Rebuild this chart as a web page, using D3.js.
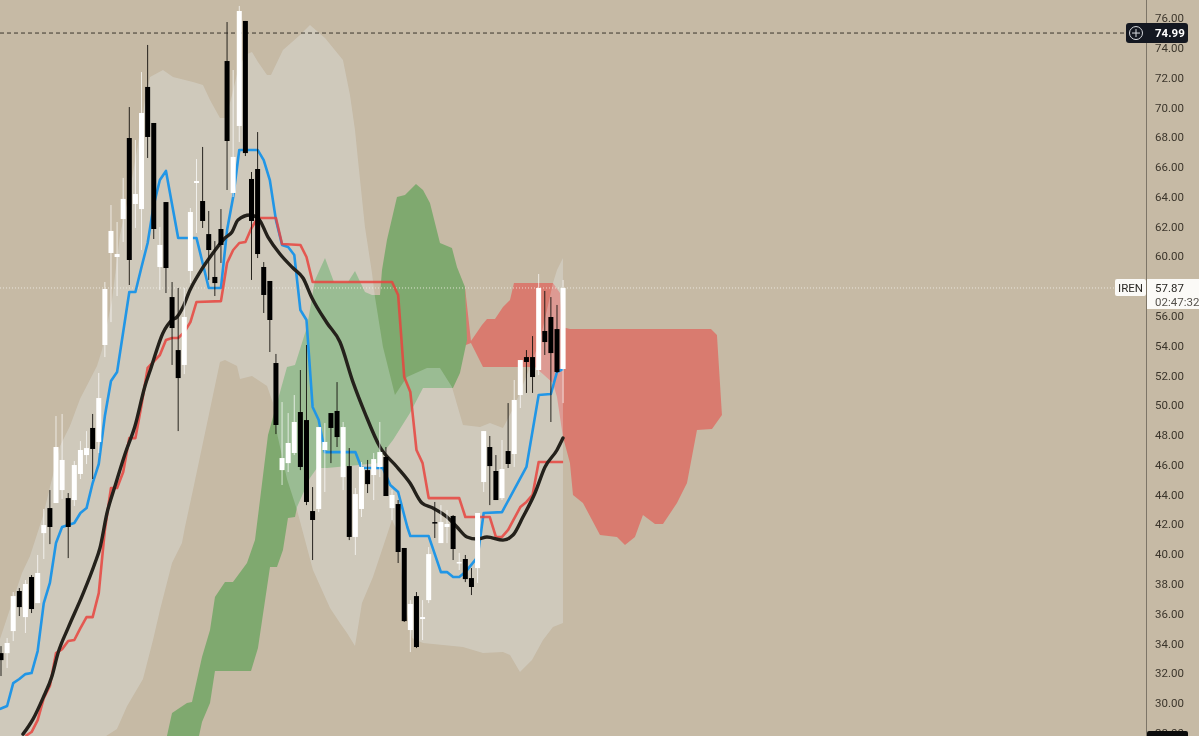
<!DOCTYPE html>
<html><head><meta charset="utf-8">
<style>html,body{margin:0;padding:0;background:#c6baa5;overflow:hidden}svg{display:block;filter:blur(0.4px)}</style>
<script src="https://cdn.jsdelivr.net/npm/d3@7/dist/d3.min.js"></script>
</head><body><svg id="c" width="1199" height="736"></svg>
<script>
const opens=[33.35,33.35,34.83,37.52,35.77,38.46,36.71,41.41,43.09,43.43,44.30,43.76,43.63,45.38,46.65,48.47,47.53,54.04,60.22,59.95,62.50,67.94,63.51,63.17,71.37,68.95,59.28,63.64,57.26,53.70,52.70,59.01,64.92,63.71,61.49,58.61,61.83,73.11,64.25,68.75,75.80,65.19,65.86,59.28,58.34,52.83,45.64,46.11,46.79,49.54,49.00,42.89,43.03,46.99,49.47,49.61,45.17,45.91,41.15,43.03,45.64,45.31,45.85,46.52,43.09,43.36,40.41,34.90,37.18,35.64,36.91,42.15,40.74,41.82,42.56,39.40,39.67,38.39,39.06,44.84,47.19,45.58,43.76,46.92,46.72,50.68,53.23,53.23,52.36,54.98,55.92,55.11,52.43];
const closes=[32.88,34.03,37.18,36.44,37.99,36.31,38.73,41.95,41.82,47.19,46.32,41.82,45.98,46.99,47.12,47.06,50.48,57.80,61.70,60.15,63.85,59.75,64.18,69.62,68.01,61.83,60.76,59.21,55.18,51.82,55.92,62.97,65.05,62.37,60.42,58.20,60.76,67.74,66.67,76.47,66.93,62.37,60.15,57.40,55.72,48.67,46.45,47.46,48.87,45.85,43.50,42.29,48.53,47.53,48.47,47.86,48.53,41.15,44.03,45.85,44.70,46.38,46.85,43.90,43.97,40.14,35.50,36.65,33.76,35.77,40.00,42.09,42.15,42.02,40.34,39.47,38.32,37.79,42.76,48.26,45.91,43.63,45.71,46.05,50.35,53.03,52.90,51.89,57.87,54.24,53.50,52.23,57.87];
const highs=[33.82,34.36,37.45,37.72,38.26,38.59,39.94,43.03,44.30,49.27,49.41,44.10,46.25,47.59,48.26,49.41,52.16,58.27,63.44,62.30,65.26,70.02,67.81,72.37,74.19,68.95,61.96,63.64,58.27,57.87,57.87,63.24,66.53,67.34,63.04,61.02,63.17,75.73,72.51,76.81,75.80,65.66,68.34,59.61,58.34,53.44,50.21,49.47,50.68,52.36,54.04,44.50,48.53,48.80,49.47,51.55,48.87,47.12,44.44,46.18,46.32,46.79,48.87,47.19,44.30,43.63,40.41,36.91,37.45,36.91,40.47,43.50,43.29,42.96,42.62,40.07,39.94,39.06,42.76,48.26,47.93,46.65,47.66,50.14,51.69,53.03,53.70,54.64,58.81,57.67,57.26,56.73,58.41];
const lows=[31.81,32.35,34.16,35.84,34.70,36.04,36.71,39.67,40.67,43.43,43.70,39.73,43.23,45.04,46.05,45.04,46.79,53.23,55.58,57.33,60.96,58.07,61.90,60.42,66.60,61.16,57.73,57.53,52.70,48.26,52.09,58.20,61.56,61.90,58.41,57.33,59.55,64.45,63.98,67.67,66.73,58.41,59.88,56.19,53.57,48.06,44.64,45.51,46.65,45.64,43.29,39.60,42.82,44.17,46.11,47.19,44.30,40.94,39.94,42.49,44.10,43.63,45.17,43.90,42.29,39.40,35.44,33.42,33.69,34.23,36.71,41.08,40.74,40.74,39.60,38.93,38.12,37.25,38.06,44.17,43.29,43.63,43.63,45.78,45.85,49.81,50.82,50.82,52.02,53.37,48.87,52.16,50.14];

const blueBars=[-0.2,1,2,3,4,5,6,7,8,9,10,12,13,14,15,16,17,18,19,21,22,23,24,25,26,27,29,32,33,34,36,37,38,39,42,43,44,45,46,47,48,49,50,51,52,53,58,59,62.5,63.7,65,66.5,67,70,72,73,74,75,76,78,79,82,86,88,90,91,92];
const bluePrices=[29.59,29.80,31.34,31.61,31.94,32.01,33.49,36.71,38.06,40.74,41.82,42.09,42.76,43.09,44.77,46.05,49.27,51.62,52.23,57.60,57.60,59.28,60.89,63.44,65.12,65.73,61.23,61.23,59.55,57.87,57.87,61.76,63.98,67.14,67.14,66.46,65.12,62.43,60.76,60.62,60.09,56.39,55.72,49.88,49.00,46.85,46.85,45.78,45.78,44.64,44.17,41.82,41.21,41.21,38.79,38.79,38.46,38.46,38.79,39.80,42.76,42.82,45.85,50.68,50.75,52.23,52.43];

const redBars=[4,5,6,7,8,9,10,11,12,13,14,15,16,17,18,19,20,21,22,23,24,26,27,28,29,30,31,32,36,37,38,39,40,41,42,45,46,49,50,51,64,65,66,67,68,69,70,75,76,80,81,82,83,85,86,87,88,92];
const redPrices=[27.78,28.05,28.85,30.33,31.14,33.35,33.62,34.16,34.23,35.03,35.77,35.77,37.38,41.62,44.44,44.44,45.51,47.79,47.79,50.01,52.50,53.37,54.38,54.51,54.51,54.91,55.58,56.93,56.99,59.55,60.42,60.89,60.96,61.90,62.57,62.57,60.82,60.76,59.95,58.27,58.27,57.40,51.89,50.88,46.99,46.11,43.76,43.76,42.49,42.49,41.15,41.15,41.62,43.16,43.50,43.97,46.18,46.18];

const maBars=[3.6,5.24,6.87,8.35,9.33,10.97,13.26,15.38,16.2,17.35,18.66,20.3,21.93,23.57,24.55,26.51,27.99,28.8,29.79,30.93,32.57,34.7,36.66,37.81,38.79,40.75,42.06,43.7,45.66,47.79,49.43,50.9,53.36,55.48,57.61,59.57,62.03,64.81,66.94,68.9,70.7,73,74.63,76.27,77.9,79.54,82.16,83.8,85.43,87.4,89.04,91,91.98];
const maPrices=[27.91,28.92,30.33,31.81,33.35,35.03,37.18,39.40,40.41,42.76,44.57,46.72,48.60,51.29,52.50,54.85,55.72,55.92,56.59,57.73,58.94,60.22,61.23,61.63,62.43,62.77,62.57,61.29,60.15,59.21,58.54,57.20,55.52,54.24,51.55,49.47,47.19,45.85,44.77,43.43,43.09,42.49,41.82,41.15,41.01,41.15,40.94,41.28,42.49,44.10,45.85,46.99,47.79];

const bandUpperBars=[-0.16,1.47,3.44,4.75,6.87,9.66,11.29,12.93,15.71,16.53,18.17,19.48,21.11,22.26,23.57,24.39,26.51,28.15,31.42,33.06,34.21,35.84,36.82,37.81,38.79,39.93,41.08,42.06,43.54,44.19,46.15,48.94,50.57,53.03,55.97,57.12,57.94,58.43,59.57,60.72,61.21,62.52,64.48,66.45,69.72,71.85,73.81,75.61,78.4,80.03,82.16,84.12,86.58,88.22,89.36,90.34,91,91.98];
const bandUpperPrices=[34.29,36.31,38.73,39.87,42.56,47.26,48.60,50.41,52.63,53.70,57.06,61.43,64.45,67.14,70.49,72.04,72.51,72.04,71.70,71.50,70.49,69.29,69.29,70.83,72.51,73.52,73.72,73.05,72.17,72.17,73.85,74.86,75.53,74.66,73.18,70.83,68.48,66.46,61.96,58.88,57.26,53.91,50.68,51.89,52.50,52.50,51.22,48.67,48.53,48.80,48.47,50.01,52.56,54.38,56.39,58.20,59.08,59.88];
const bandLowerBars=[-0.16,16.69,18.98,20.62,23.24,24.88,26.02,27.99,29.62,30.11,31.42,34.53,35.84,36.66,38.63,39.12,41.08,43.54,44.52,45.17,46.81,48.45,51.06,53.85,55.48,56.63,57.94,59.08,60.88,62.52,63.99,64.97,65.96,67.27,69.07,75.61,78.89,82.16,83.31,84.94,86.91,88.71,90.34,91.98];
const bandLowerPrices=[26.17,27.65,28.25,29.79,31.61,34.23,36.24,39.40,40.74,41.82,44.30,50.35,52.90,53.03,52.63,51.76,51.96,51.29,50.14,48.13,45.04,42.96,38.93,36.38,35.37,34.70,33.82,36.71,38.46,40.47,42.29,41.48,36.91,34.36,34.03,33.76,33.35,33.42,33.22,32.08,32.88,34.23,35.10,35.37];

const greenBars=[26.84,27.99,30.44,31.26,32.9,34.21,35.02,36.66,37.97,40.26,41.57,42.39,43.7,46.81,48.12,50.08,51.39,53.03,54.5,56.79,57.94,59.57,60.72,62.03,62.36,63.17,64.81,66.12,67.92,69.07,70.21,71.85,73.81,74.63,75.94,76.27,75.12,73.98,69.07,66.94,64.16,62.52,62.03,53.36,51.72,50.57,48.45,48.12,46.97,46.15,45.17,44.03,42.06,40.92,35.02,34.21,32.9,32.08];
const greenPrices=[27.18,29.33,30.00,30.06,33.09,34.90,37.12,38.12,38.12,39.40,40.94,43.63,48.00,52.56,52.70,55.25,58.41,59.88,58.27,58.27,59.01,57.60,57.40,57.40,59.08,61.09,63.98,64.11,64.85,64.45,63.58,60.89,60.55,59.28,57.94,54.38,52.16,51.15,51.15,49.47,47.66,46.79,46.11,45.78,45.78,45.11,43.16,42.49,42.42,40.27,39.13,39.13,33.69,32.15,32.15,30.00,28.72,27.18];

const cloudRedBars=[75.94,76.92,78.72,79.54,80.85,82.16,83.31,83.96,90.34,91.49,91.82,93.12,116.2,117.18,118,116.37,113.91,112.28,110.64,108.35,107.04,105.07,103.76,102.13,100.82,98.04,95.25,93.62,93.12,91.98,91.49,91,90.34,87.4,78.89,78.07,76.92,76.1];
const cloudRedPrices=[57.94,54.31,55.38,55.79,55.79,56.59,57.06,58.20,58.20,57.53,55.25,55.11,55.11,54.71,49.34,48.40,48.33,44.77,43.43,42.02,42.02,42.62,41.15,40.61,41.15,41.28,43.43,43.97,46.12,47.86,49.20,50.55,51.49,52.56,52.56,53.23,54.17,54.04];

const tickValues=[76,74,72,70,68,66,64,62,60,56,54,52,50,48,46,44,42,40,38,36,34,32,30,28];
const highPrice=74.99, lastPrice=57.87, symbol="IREN", countdown="02:47:32", lowPriceLabel="27.40";

const svg=d3.select("#c");
const FONT="Roboto, sans-serif";
const x=d3.scaleLinear().domain([0,92]).range([1,563.1]);
const y=d3.scaleLinear().domain([76,30]).range([18,703]);
const AXX=1146.5;
const chart=svg.append("g");
const line=d3.line().x(d=>x(d[0])).y(d=>y(d[1]));
const zip=(a,b)=>a.map((v,i)=>[v,b[i]]);

chart.append("path").attr("d",line(zip(cloudRedBars,cloudRedPrices))+"Z").attr("fill","#d97b6f");
chart.append("path").attr("d",line(zip(greenBars,greenPrices))+"Z").attr("fill","#7fa96f");
const bandPts=zip(bandUpperBars,bandUpperPrices).concat(zip(bandLowerBars,bandLowerPrices).reverse());
chart.append("path").attr("d",line(bandPts)+"Z").attr("fill","rgb(237,249,255)").attr("fill-opacity",0.25);

chart.append("line").attr("x1",0).attr("x2",1126).attr("y1",y(highPrice)).attr("y2",y(highPrice)).attr("stroke","#3b352c").attr("stroke-width",1).attr("stroke-dasharray","4 3");
chart.append("line").attr("x1",0).attr("x2",1115).attr("y1",y(lastPrice)).attr("y2",y(lastPrice)).attr("stroke","#f4f1ea").attr("stroke-width",1).attr("stroke-dasharray","1 2").attr("opacity",0.8);

chart.append("path").attr("d",line(zip(blueBars,bluePrices))).attr("fill","none").attr("stroke","#2196e6").attr("stroke-width",2.6).attr("stroke-linejoin","round");
chart.append("path").attr("d",line(zip(redBars,redPrices))).attr("fill","none").attr("stroke","#e8443e").attr("stroke-width",2.6).attr("stroke-linejoin","round").attr("opacity",0.85);
chart.append("path").attr("d",d3.line().x(d=>x(d[0])).y(d=>y(d[1])).curve(d3.curveMonotoneX)(zip(maBars,maPrices))).attr("fill","none").attr("stroke","#24211b").attr("stroke-width",3.4).attr("stroke-linecap","round");

const candles=opens.map((o,i)=>({i,o,c:closes[i],h:highs[i],l:lows[i]}));
const cg=chart.append("g");
cg.selectAll("line").data(candles).join("line")
 .attr("x1",d=>x(d.i)).attr("x2",d=>x(d.i)).attr("y1",d=>y(d.h)).attr("y2",d=>y(d.l))
 .attr("stroke",d=>d.c>=d.o?"#ffffff":"#14120e").attr("stroke-width",1).attr("opacity",d=>d.c>=d.o?0.7:0.9);
cg.selectAll("rect").data(candles).join("rect")
 .attr("x",d=>x(d.i)-2.5).attr("width",5)
 .attr("y",d=>y(Math.max(d.o,d.c)))
 .attr("height",d=>Math.max(1.5,Math.abs(y(d.o)-y(d.c))))
 .attr("fill",d=>d.c>=d.o?"#ffffff":"#000000");

// price axis
svg.append("line").attr("x1",AXX).attr("x2",AXX).attr("y1",0).attr("y2",736).attr("stroke","#7d7567").attr("stroke-width",1);
const axis=d3.axisRight(y).tickValues(tickValues).tickSize(0).tickPadding(0).tickFormat(d3.format(".2f"));
const ag=svg.append("g").attr("transform",`translate(1155,0)`).call(axis);
ag.select(".domain").remove();
ag.selectAll("text").attr("font-family",FONT).attr("font-size",11.5).attr("fill","#3b352b");

// high price label
const hl=svg.append("g");
hl.append("rect").attr("x",1126).attr("y",y(highPrice)-10).attr("width",62).attr("height",20).attr("rx",3).attr("fill","#141821");
hl.append("circle").attr("cx",1136).attr("cy",y(highPrice)).attr("r",6.5).attr("fill","none").attr("stroke","#d8dbe0").attr("stroke-width",1);
hl.append("path").attr("d",`M1132 ${y(highPrice)}H1140M1136 ${y(highPrice)-4}V${y(highPrice)+4}`).attr("stroke","#d8dbe0").attr("stroke-width",1);
hl.append("text").attr("x",1155).attr("y",y(highPrice)+4).attr("font-family",FONT).attr("font-size",11.5).attr("font-weight",700).attr("fill","#fff").text(highPrice.toFixed(2));

// last price labels
const yl=y(lastPrice);
svg.append("rect").attr("x",1115).attr("y",yl-9).attr("width",31).attr("height",17).attr("rx",2).attr("fill","#fbfaf7");
svg.append("text").attr("x",1130.5).attr("y",yl+4).attr("text-anchor","middle").attr("font-family",FONT).attr("font-size",11.5).attr("fill","#2a2824").text(symbol);
svg.append("rect").attr("x",1147).attr("y",yl-9).attr("width",52).attr("height",30).attr("fill","#fbfaf7");
svg.append("text").attr("x",1155).attr("y",yl+4).attr("font-family",FONT).attr("font-size",11.5).attr("fill","#2a2824").text(lastPrice.toFixed(2));
svg.append("text").attr("x",1155).attr("y",yl+18).attr("font-family",FONT).attr("font-size",11.5).attr("fill","#55524c").text(countdown);

// bottom clipped label, cut off by the window as in the reference
svg.append("rect").attr("x",1147).attr("y",731).attr("width",41).attr("height",20).attr("rx",2).attr("fill","#0c0c0c");
svg.append("text").attr("x",1155).attr("y",743.5).attr("font-family",FONT).attr("font-size",11.5).attr("font-weight",700).attr("fill","#fff").text(lowPriceLabel);
</script></body></html>
